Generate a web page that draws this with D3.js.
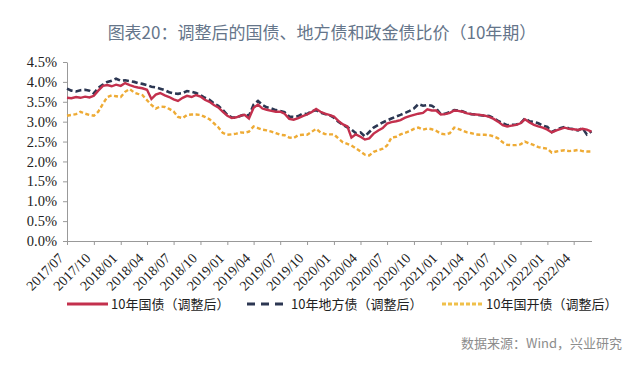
<!DOCTYPE html>
<html>
<head>
<meta charset="utf-8">
<script src="https://cdn.jsdelivr.net/npm/d3@7"></script>
<style>
  body { margin: 0; background: #fff; }
  svg { display: block; }
  .cjk { font-family: "Noto Sans CJK SC", "Noto Sans", sans-serif; }
</style>
</head>
<body>
<div id="content"></div>
<script>
// semi-monthly readings, 2017/07/01 .. 2022/06/01 (1st and 16th of each month)
const START = new Date(2017, 6, 1);

const GOV = [
  3.60,3.59,3.62,3.60,3.63,3.61,3.65,3.78,3.90,3.92,3.89,3.93,3.90,3.97,3.92,3.88,3.86,3.84,3.80,3.57,3.68,3.72,3.66,3.62,
  3.56,3.52,3.60,3.65,3.62,3.67,3.63,3.55,3.50,3.42,3.36,3.25,3.15,3.09,3.11,3.15,3.17,3.08,3.35,3.43,3.33,3.30,3.27,3.25,
  3.25,3.20,3.07,3.05,3.09,3.14,3.18,3.24,3.32,3.25,3.20,3.17,3.13,3.02,2.93,2.88,2.60,2.68,2.62,2.55,2.58,2.70,2.78,2.84,
  2.95,2.99,3.01,3.04,3.10,3.14,3.17,3.20,3.22,3.31,3.28,3.28,3.18,3.19,3.22,3.28,3.27,3.25,3.21,3.19,3.18,3.17,3.15,3.12,
  3.07,3.00,2.91,2.88,2.90,2.92,2.96,3.06,2.98,2.92,2.88,2.85,2.80,2.73,2.78,2.82,2.85,2.82,2.81,2.79,2.82,2.80,2.75
];
const LOCAL = [
  3.83,3.78,3.76,3.79,3.80,3.78,3.71,3.85,3.93,4.00,4.03,4.08,4.03,4.04,4.02,4.00,3.97,3.95,3.92,3.88,3.86,3.83,3.79,3.74,
  3.71,3.70,3.72,3.77,3.75,3.72,3.67,3.60,3.55,3.46,3.40,3.30,3.17,3.11,3.10,3.15,3.18,3.15,3.43,3.52,3.42,3.36,3.33,3.29,
  3.27,3.24,3.13,3.12,3.14,3.20,3.19,3.26,3.29,3.23,3.19,3.17,3.10,3.00,2.92,2.86,2.80,2.71,2.73,2.63,2.74,2.85,2.92,2.98,
  3.03,3.08,3.13,3.17,3.22,3.27,3.33,3.44,3.40,3.42,3.40,3.33,3.19,3.20,3.24,3.29,3.28,3.26,3.21,3.19,3.18,3.16,3.15,3.14,
  3.09,3.02,2.96,2.91,2.92,2.93,2.96,3.08,3.01,2.99,2.96,2.90,2.87,2.74,2.80,2.84,2.87,2.83,2.81,2.78,2.84,2.68,2.76
];
const CDB = [
  3.15,3.17,3.19,3.25,3.20,3.17,3.15,3.25,3.45,3.62,3.66,3.64,3.62,3.75,3.82,3.73,3.70,3.67,3.54,3.42,3.33,3.38,3.37,3.32,
  3.26,3.12,3.09,3.17,3.18,3.18,3.17,3.12,3.06,2.96,2.86,2.72,2.67,2.68,2.70,2.73,2.72,2.75,2.88,2.84,2.80,2.78,2.75,2.71,
  2.67,2.66,2.60,2.59,2.66,2.67,2.67,2.74,2.82,2.73,2.69,2.68,2.68,2.58,2.48,2.44,2.40,2.33,2.25,2.17,2.15,2.24,2.28,2.32,
  2.40,2.60,2.62,2.68,2.72,2.76,2.82,2.85,2.80,2.83,2.81,2.77,2.70,2.68,2.71,2.85,2.82,2.78,2.73,2.71,2.68,2.67,2.67,2.66,
  2.63,2.58,2.48,2.42,2.41,2.41,2.43,2.50,2.45,2.41,2.36,2.34,2.32,2.22,2.25,2.27,2.28,2.26,2.27,2.29,2.26,2.25,2.25
];
const SERIES_NAMES = ['10年国债（调整后）', '10年地方债（调整后）', '10年国开债（调整后）'];
const Y_TICKS = [0, 0.5, 1.0, 1.5, 2.0, 2.5, 3.0, 3.5, 4.0, 4.5];

const TITLE = '图表20：调整后的国债、地方债和政金债比价（10年期）';
const SOURCE = '数据来源：Wind，兴业研究';

var DATES = GOV.map(function (v, i) {
    var d = d3.timeMonth.offset(START, Math.floor(i / 2));
    return i % 2 ? d3.timeDay.offset(d, 15) : d;
});

var width = 640;
var height = 374;
var plotLeft = 67, plotRight = 592, plotTop = 62, plotBottom = 241;
var SERIF = '"Liberation Serif", "DejaVu Serif", serif';

var svg = d3.select('#content')
.append('svg')
.attr('width', width)
.attr('height', height);

svg.append('text')
.attr('class', 'cjk')
.attr('x', 322)
.attr('y', 39)
.attr('text-anchor', 'middle')
.style('font-size', '17px')
.style('fill', '#65758a')
.text(TITLE);

var xScale = d3.scaleTime()
.domain([START, DATES[DATES.length - 1]])
.range([plotLeft, plotRight - 0.5]);

var yScale = d3.scaleLinear()
.domain([0, 4.5])
.range([plotBottom, plotTop]);

var xAxis = d3.axisBottom(xScale)
.ticks(d3.timeMonth.every(3))
.tickFormat(d3.timeFormat('%Y/%m'))
.tickSizeInner(4)
.tickSizeOuter(0);

var gx = svg.append('g')
.attr('transform', 'translate(0,' + plotBottom + ')')
.call(xAxis);
gx.select('.domain').attr('d', 'M' + plotLeft + ',0.5H' + plotRight).attr('stroke', '#999');
gx.selectAll('.tick line').attr('stroke', '#999');
gx.selectAll('.tick text')
.style('font-family', SERIF)
.style('font-size', '14px')
.style('fill', '#222')
.attr('text-anchor', 'end')
.attr('dy', null)
.attr('y', null)
.attr('transform', 'translate(-3,18) rotate(-45)');

var yAxis = d3.axisLeft(yScale)
.tickValues(Y_TICKS)
.tickFormat(function (d) {return d.toFixed(1) + '%'})
.tickSizeInner(4)
.tickSizeOuter(0);

var gy = svg.append('g')
.attr('transform', 'translate(' + plotLeft + ',0)')
.call(yAxis);
gy.select('.domain').attr('stroke', '#999');
gy.selectAll('.tick line').attr('stroke', '#999');
gy.selectAll('.tick text')
.style('font-family', SERIF)
.style('font-size', '14.5px')
.style('fill', '#222')
.attr('x', -10);

var line = d3.line()
.x(function (d, i) {return xScale(DATES[i])})
.y(function (d) {return yScale(d)});

var styles = [
    {data: CDB, color: '#eeab35', dash: '4,2.5', w: 2.4},
    {data: LOCAL, color: '#2c3752', dash: '6,3', w: 2.6},
    {data: GOV, color: '#c3304d', dash: null, w: 2.4}
];

styles.forEach(function (s) {
    svg.append('path')
    .datum(s.data)
    .attr('fill', 'none')
    .attr('stroke', s.color)
    .attr('stroke-width', s.w)
    .attr('stroke-dasharray', s.dash)
    .attr('d', line);
});

// legend
var legend = [
    {name: SERIES_NAMES[0], color: '#c3304d', dash: null, x: 67},
    {name: SERIES_NAMES[1], color: '#2c3752', dash: '8,6', x: 247},
    {name: SERIES_NAMES[2], color: '#f0c04a', dash: '4,2', x: 442}
];

var lg = svg.selectAll('.legend')
.data(legend)
.enter()
.append('g')
.attr('class', 'legend')
.attr('transform', function (d) {return 'translate(' + d.x + ',304)'});

lg.append('line')
.attr('x1', 0)
.attr('x2', 41)
.attr('y1', 0)
.attr('y2', 0)
.attr('stroke', function (d) {return d.color})
.attr('stroke-width', 3)
.attr('stroke-dasharray', function (d) {return d.dash});

lg.append('text')
.attr('class', 'cjk')
.attr('x', 44)
.attr('y', 5)
.style('font-size', '13px')
.style('fill', '#222')
.text(function (d) {return d.name});

svg.append('text')
.attr('class', 'cjk')
.attr('x', 622)
.attr('y', 348)
.attr('text-anchor', 'end')
.style('font-size', '13px')
.style('fill', '#8c8c8c')
.text(SOURCE);
</script>
</body>
</html>
